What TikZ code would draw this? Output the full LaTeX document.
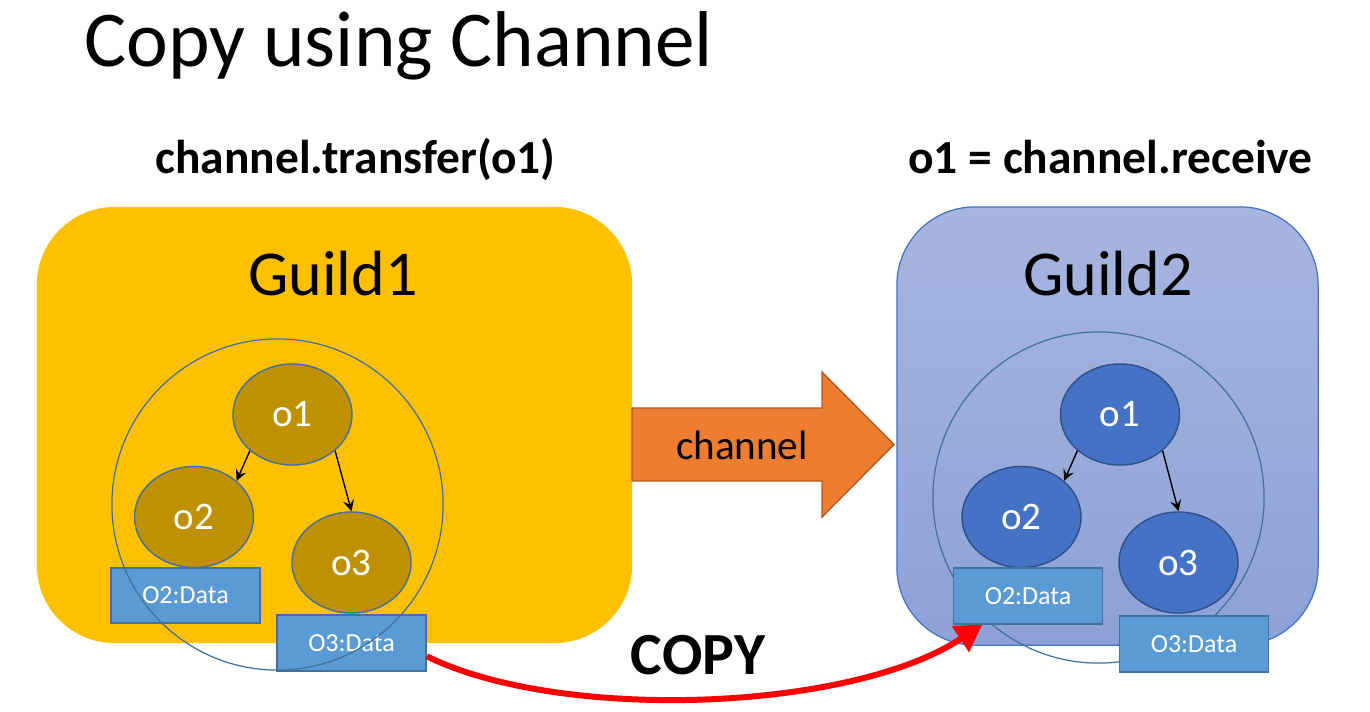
\documentclass[tikz,border=0pt]{standalone}
\usepackage{fontspec}
\setmainfont{Carlito}
\definecolor{guild-gold}{HTML}{FFC000}
\definecolor{obj-gold}{HTML}{BF9000}
\definecolor{obj-blue}{HTML}{4472C4}
\definecolor{obj-edge}{HTML}{41719C}
\definecolor{data-blue}{HTML}{5B9BD5}
\definecolor{pipe-orange}{HTML}{ED7D31}
\definecolor{pipe-edge}{HTML}{AE5A21}
\definecolor{guild-top}{HTML}{A7B6DF}
\definecolor{guild-bottom}{HTML}{8DA1D8}
\usetikzlibrary{arrows.meta, shapes.geometric}
\tikzset{
  guild/.style={
    rectangle, rounded corners=0.78cm, inner sep=0pt
  },
  guildname/.style={
    anchor=base, inner sep=0pt, font=\fontsize{18.2}{22}\selectfont
  },
  heading/.style={
    anchor=base, inner sep=0pt, font=\bfseries\fontsize{13.5}{16}\selectfont
  },
  ring/.style={
    circle, draw=obj-edge, line width=.35pt, inner sep=0pt, minimum size=3.31cm
  },
  obj/.style={
    ellipse, draw=obj-edge, line width=.4pt, inner sep=0pt,
    minimum width=1.19cm, minimum height=1.01cm,
    text=white, font=\fontsize{11.1}{13}\selectfont
  },
  data/.style={
    rectangle, draw=obj-edge, fill=data-blue, line width=.45pt, inner sep=0pt,
    minimum width=1.49cm, minimum height=0.555cm,
    text=white, font=\fontsize{7.4}{9}\selectfont
  },
  ref/.style={
    draw, ->, >=stealth, color=black, line width=.4pt
  },
  copyline/.style={
    draw, -{Triangle[length=7.5pt,width=8.5pt]}, color=red, line width=1.7pt
  }
}

\begin{document}
\begin{tikzpicture}[x=0.01cm, y=-0.01cm]
        \useasboundingbox (0,0) rectangle (1370,711);

        % titles
        \node[anchor=base west, inner sep=0pt, font=\fontsize{22.5}{27}\selectfont] (title) at (84,66) {Copy using Channel};
        \node[heading] (send) at (355.5,173) {channel.transfer(o1)};
        \node[heading] (recv) at (1110.5,173) {o1 = channel.receive};

        % guild 1
        \node[guild, fill=guild-gold, minimum width=5.95cm, minimum height=4.36cm] (guildA) at (334.5,425) {};
        \node[guildname] (nameA) at (333,295) {Guild1};
        \node[obj, fill=obj-gold] (l1) at (292.5,414.5) {o1};
        \node[obj, fill=obj-gold] (l2) at (194,517) {o2};
        \node[obj, fill=obj-gold] (l3) at (351.5,562.5) {o3};
        \node[data] (ld2) at (185.5,595.5) {O2:Data};
        \node[data] (ld3) at (351.5,643) {O3:Data};
        \node[ring] (ringA) at (277.5,504.5) {};

        \draw[ref] (l1.south west) -- (l2.north east);
        \draw[ref] (l1.south east) -- (l3.north);

        % channel
        \fill[pipe-orange, draw=pipe-edge, line width=.4pt] (632,408) -- (822,408) -- (822,372) -- (894,444.5) -- (822,517) -- (822,481) -- (632,481) -- cycle;
        \node[anchor=base, inner sep=0pt, font=\fontsize{11.7}{14}\selectfont] (pipe) at (742,459) {channel};

        % guild 2
        \node[guild, draw=obj-blue, line width=.35pt, top color=guild-top, bottom color=guild-bottom, minimum width=4.21cm, minimum height=4.38cm] (guildB) at (1107.5,426) {};
        \node[guildname] (nameB) at (1108,295) {Guild2};
        \node[ring] (ringB) at (1098.5,497.5) {};
        \node[obj, fill=obj-blue, draw=obj-blue!70!black] (r1) at (1120,414.5) {o1};
        \node[obj, fill=obj-blue, draw=obj-blue!70!black] (r2) at (1021.5,517) {o2};
        \node[obj, fill=obj-blue, draw=obj-blue!70!black] (r3) at (1178.5,562.5) {o3};
        \node[data] (rd2) at (1028,596) {O2:Data};
        \node[data] (rd3) at (1194,644) {O3:Data};

        \draw[ref] (r1.south west) -- (r2.north east);
        \draw[ref] (r1.south east) -- (r3.north);

        % copy
        \draw[copyline] (ld3.-10) .. controls (560,722) and (850,712) .. (rd2.-148);
        \node[anchor=base, inner sep=0pt, font=\bfseries\fontsize{17}{20}\selectfont] (copy) at (698,674) {COPY};
      \end{tikzpicture}
\end{document}
